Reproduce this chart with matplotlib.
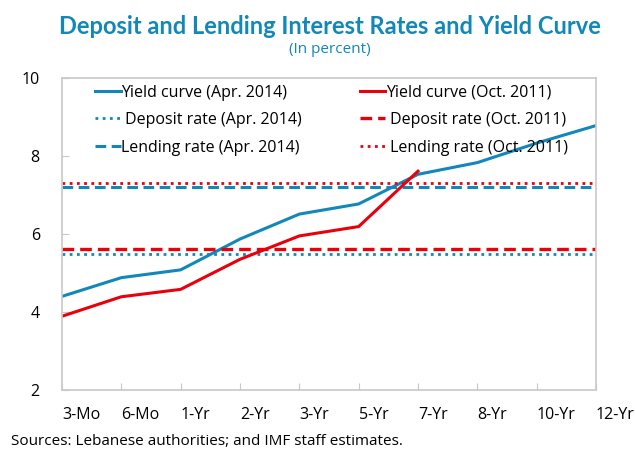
import matplotlib
matplotlib.use("Agg")
import matplotlib.pyplot as plt

# datos
categories = ["3-Mo", "6-Mo", "1-Yr", "2-Yr", "3-Yr", "5-Yr", "7-Yr", "8-Yr", "10-Yr", "12-Yr"]
yield_apr2014 = [4.40, 4.88, 5.08, 5.87, 6.51, 6.77, 7.53, 7.83, 8.33, 8.78]
yield_oct2011 = [3.89, 4.39, 4.58, 5.35, 5.95, 6.19, 7.61]
deposit_apr2014 = 5.48
lending_apr2014 = 7.21
deposit_oct2011 = 5.61
lending_oct2011 = 7.30

blue = "#1287B9"
red = "#E8000B"
title_color = "#1287B9"

plt.rcParams['font.family'] = ['Open Sans', 'DejaVu Sans']

fig = plt.figure(figsize=(6.35, 4.55), dpi=100)
ax = fig.add_axes([0.0976, 0.1429, 0.841, 0.6857])

x = list(range(len(categories)))
n = len(x) - 1

ax.plot(x, yield_apr2014, color=blue, lw=2.2, label="Yield curve (Apr. 2014)")
ax.plot([0, n], [deposit_apr2014] * 2, color=blue, lw=2, ls=(0, (1, 1.6)),
        label=" Deposit rate (Apr. 2014)")
ax.plot([0, n], [lending_apr2014] * 2, color=blue, lw=2.2, ls=(0, (3.5, 1.8)),
        label="Lending rate (Apr. 2014)")
ax.plot(x[:len(yield_oct2011)], yield_oct2011, color=red, lw=2.2, label="Yield curve (Oct. 2011)")
ax.plot([0, n], [deposit_oct2011] * 2, color=red, lw=2.4, ls=(0, (3.5, 1.8)),
        label=" Deposit rate (Oct. 2011)")
ax.plot([0, n], [lending_oct2011] * 2, color=red, lw=2, ls=(0, (1, 1.6)),
        label=" Lending rate (Oct. 2011)")

ax.set_xlim(0, n)
ax.set_ylim(2, 10)
ax.set_yticks([2, 4, 6, 8, 10])
ax.set_xticks(x)
ax.set_xticklabels(categories, ha='left')
ax.tick_params(axis='x', direction='in', length=5, color='#C8C8C8', labelsize=11.5, pad=12)
ax.tick_params(axis='y', direction='in', length=5, color='#C8C8C8', labelsize=11.5, pad=16)
for s in ax.spines.values():
    s.set_color('#C8C8C8')
    s.set_linewidth(1.2)

ax.legend(loc='upper left', bbox_to_anchor=(0.035, 1.025), ncol=2, frameon=False,
          fontsize=11.5, handlelength=1.6, handletextpad=0.05, columnspacing=3.6,
          labelspacing=0.72)

fig.text(0.52, 0.942, "Deposit and Lending Interest Rates and Yield Curve",
         ha='center', va='center', fontsize=17, fontweight='bold', color=title_color,
         family=['Lato', 'DejaVu Sans'])
fig.text(0.52, 0.892, "(In percent)", ha='center', va='center', fontsize=11,
         color=title_color)
fig.text(0.018, 0.03, "Sources: Lebanese authorities; and IMF staff estimates.",
         ha='left', va='center', fontsize=11)

fig.savefig("out.png", dpi=100)
